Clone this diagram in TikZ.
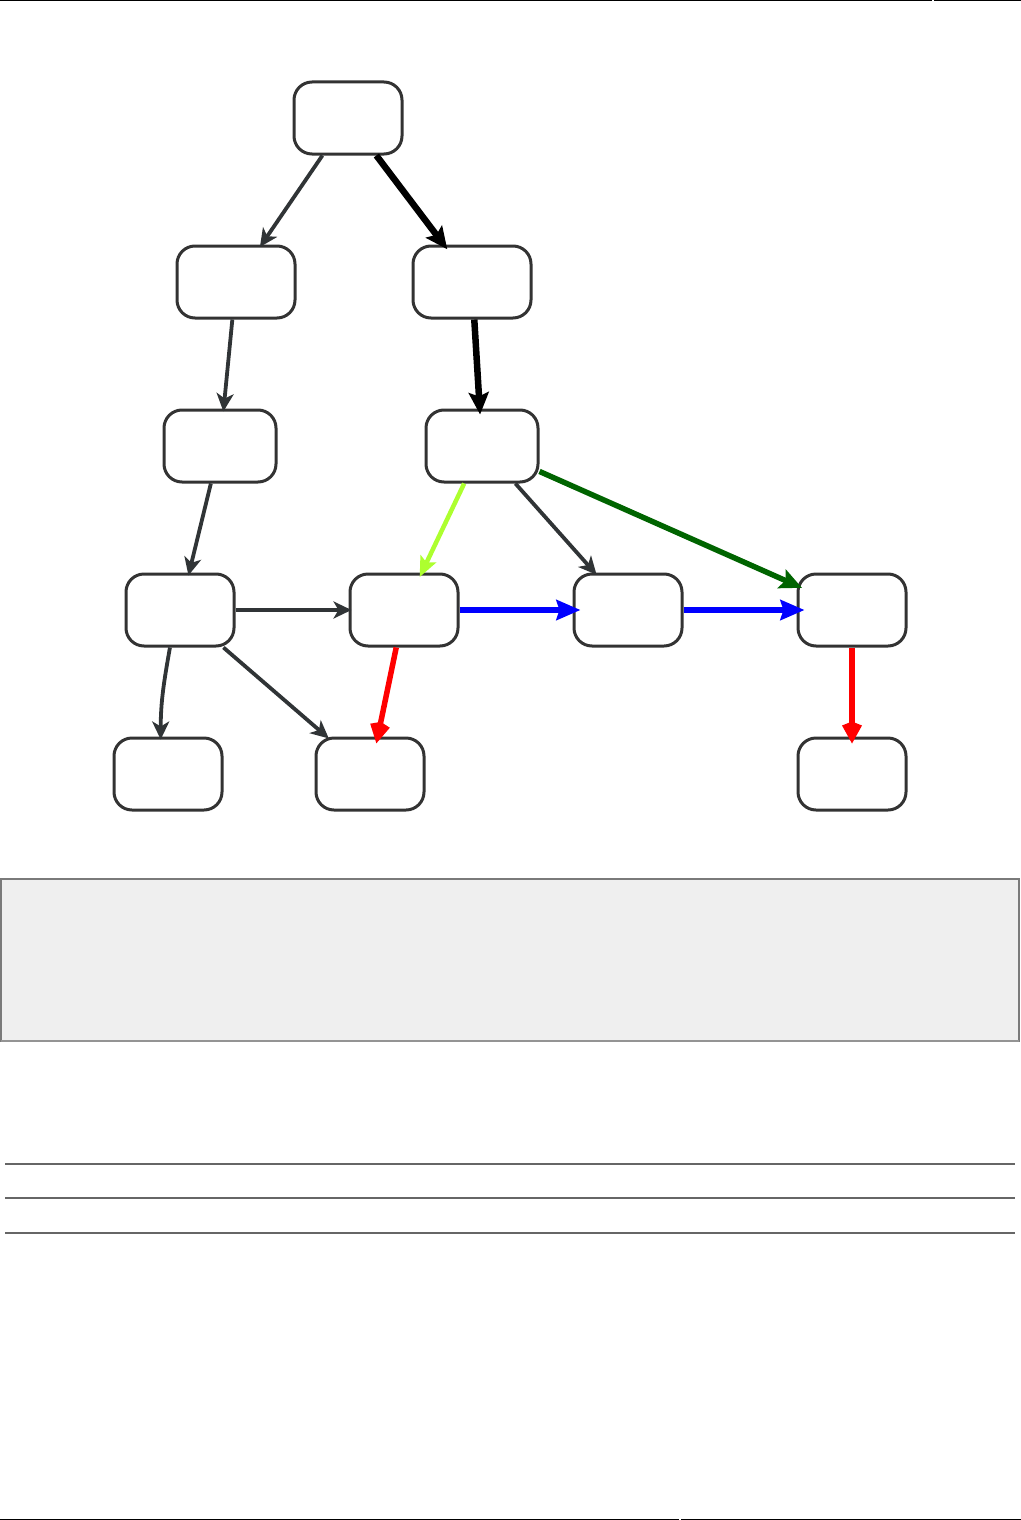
\documentclass[tikz,border=0pt]{standalone}
\usepackage{tikz}
\usepackage{xcolor}
\usetikzlibrary{arrows.meta}
\definecolor{nGray}{HTML}{333333}
\definecolor{eGray}{HTML}{303436}
\definecolor{lineGray}{HTML}{666666}
\definecolor{panelFill}{HTML}{EFEFEF}
\definecolor{panelLine}{HTML}{7A7A7A}
\definecolor{limeEdge}{HTML}{ADFF2F}
\definecolor{darkEdge}{HTML}{006400}

\begin{document}
\begin{tikzpicture}[x=0.5pt, y=-0.5pt,
  box/.style={draw=nGray, line width=1.5pt, rounded corners=9pt, fill=white,
              minimum width=54pt, minimum height=36pt, inner sep=0pt},
  wbox/.style={box, minimum width=59pt},
  mbox/.style={box, minimum width=56pt},
  plain/.style={draw=eGray, line width=1.9pt, shorten >=-1.5pt,
                -{Stealth[length=9pt, width=8.5pt, inset=2.5pt]}},
  heavy/.style={draw=black, line width=3.25pt, shorten >=-3pt,
                -{Stealth[length=11pt, width=10pt, inset=2pt]}},
  blueedge/.style={draw=blue, line width=2.75pt, shorten >=-4pt,
                   -{Stealth[length=12pt, width=10pt, inset=1.5pt]}},
  rededge/.style={draw=red, line width=2.75pt, shorten >=-3.5pt,
                  -{Kite[length=11pt, width=10pt, inset=2pt]}},
]
  \useasboundingbox (0,0) rectangle (1021,1520);

  % page rules
  \draw[black, line width=1pt] (0,0.5) -- (932,0.5) (934,0.5) -- (1021,0.5);
  \draw[black, line width=1pt] (0,1519.5) -- (679,1519.5) (681,1519.5) -- (1021,1519.5);

  % nodes
  \node[box]  (top) at (348,118) {};
  \node[wbox] (l1)  at (236,282) {};
  \node[wbox] (r1)  at (472,282) {};
  \node[mbox] (l2)  at (220,446) {};
  \node[mbox] (r2)  at (482,446) {};
  \node[box]  (a3)  at (180,610) {};
  \node[box]  (b3)  at (404,610) {};
  \node[box]  (c3)  at (628,610) {};
  \node[box]  (d3)  at (852,610) {};
  \node[box]  (a4)  at (168,774) {};
  \node[box]  (b4)  at (370,774) {};
  \node[box]  (d4)  at (852,774) {};

  % edges
  \draw[plain] (top) -- (l1);
  \draw[heavy] (top) -- (r1);
  \draw[plain] (l1) -- (l2);
  \draw[heavy] (r1) -- (r2);
  \draw[plain] (l2) -- (a3);
  \draw[limeEdge, line width=2.25pt, shorten >=-2.5pt,
        -{Stealth[length=10pt, width=8.5pt, inset=2pt]}] (r2) -- (b3);
  \draw[plain] (r2) -- (c3);
  \draw[darkEdge, line width=2.75pt, shorten >=-3pt,
        -{Stealth[length=11pt, width=10pt, inset=2pt]}] (r2) -- (d3);
  \draw[plain] (a3) -- (b3);
  \draw[plain] (a3.255) to[out=-100, in=90] (a4.101);
  \draw[plain] (a3) -- (b4);
  \draw[blueedge] (b3) -- (c3);
  \draw[rededge] (b3) -- (b4);
  \draw[blueedge] (c3) -- (d3);
  \draw[rededge] (d3) -- (d4);

  % grey panel
  \draw[panelLine, fill=panelFill, line width=0.75pt] (1,879) rectangle (1019,1041);
  \draw[lineGray!70, line width=1pt] (1,1041) -- (1019,1041);

  % rules below the panel
  \foreach \yy in {1164,1198,1233}
    \draw[lineGray, line width=1pt] (5,\yy) -- (1015,\yy);
\end{tikzpicture}
\end{document}
